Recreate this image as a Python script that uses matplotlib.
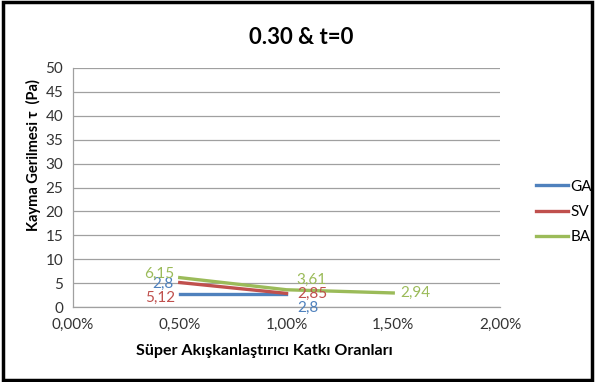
import matplotlib.pyplot as plt
from matplotlib.patches import Rectangle

plt.rcParams['font.family'] = ['Lato', 'DejaVu Sans']

# datos
x_ga = [0.5, 1.0]
ga = [2.8, 2.8]
x_sv = [0.5, 1.0]
sv = [5.12, 2.85]
x_ba = [0.5, 1.0, 1.5]
ba = [6.15, 3.61, 2.94]
x_ticks = [0.0, 0.5, 1.0, 1.5, 2.0]
x_tick_labels = ['0,00%', '0,50%', '1,00%', '1,50%', '2,00%']
y_ticks = list(range(0, 55, 5))

c_ga = '#4F81BD'
c_sv = '#C0504D'
c_ba = '#9BBB59'

fig = plt.figure(figsize=(5.95, 3.82), dpi=100)
ax = fig.add_axes([0.1227, 0.1963, 0.7176, 0.6257])

ax.plot(x_ga, ga, color=c_ga, lw=2.4, label='GA', zorder=3)
ax.plot(x_sv, sv, color=c_sv, lw=2.4, label='SV', zorder=4)
ax.plot(x_ba, ba, color=c_ba, lw=2.4, label='BA', zorder=5)

# etiquetas de datos (desplazamientos en pixeles)
fs = 11
def etiqueta(txt, x, y, dx, dy, ha, color):
    ax.annotate(txt, (x, y), xytext=(dx, dy), textcoords='offset pixels',
                ha=ha, va='center', color=color, fontsize=fs, zorder=6)

etiqueta('2,8', x_ga[0], ga[0], -6, 10, 'right', c_ga)
etiqueta('2,8', x_ga[1], ga[1], 11, -14, 'left', c_ga)
etiqueta('5,12', x_sv[0], sv[0], -5, -15, 'right', c_sv)
etiqueta('2,85', x_sv[1], sv[1], 11, -1, 'left', c_sv)
etiqueta('6,15', x_ba[0], ba[0], -5, 4, 'right', c_ba)
etiqueta('3,61', x_ba[1], ba[1], 10, 10, 'left', c_ba)
etiqueta('2,94', x_ba[2], ba[2], 7, 0, 'left', c_ba)

ax.set_xlim(0, 2.0)
ax.set_ylim(0, 50)
ax.set_xticks(x_ticks)
ax.set_xticklabels(x_tick_labels)
ax.set_yticks(y_ticks)
ax.tick_params(length=0, labelsize=11, colors='#333333')
ax.tick_params(axis='y', pad=7)
ax.tick_params(axis='x', pad=8)
ax.grid(axis='y', color='#A0A0A0', lw=0.9)
ax.set_axisbelow(True)
for s in ['top', 'right']:
    ax.spines[s].set_visible(False)
for s in ['left', 'bottom']:
    ax.spines[s].set_color('#A0A0A0')
    ax.spines[s].set_linewidth(0.9)

fig.text(0.507, 0.903, '0.30 & t=0', fontsize=16, fontweight='bold', ha='center', va='center')
fig.text(0.445, 0.081, 'Süper Akışkanlaştırıcı Katkı Oranları', fontsize=11.5,
         fontweight='bold', ha='center', va='center')
fig.text(0.056, 0.594, 'Kayma Gerilmesi τ  (Pa)', fontsize=10.5, fontweight='bold',
         ha='center', va='center', rotation=90)

ax.legend(loc='center left', bbox_to_anchor=(0.9, 0.445), bbox_transform=fig.transFigure,
          frameon=False, fontsize=11, handlelength=2.1, handletextpad=0.2,
          labelspacing=0.75, borderpad=0, borderaxespad=0)

# marco negro de la figura
fig.patches.append(Rectangle((0.005, 0.004), 0.99, 0.992, transform=fig.transFigure,
                             fill=False, edgecolor='black', lw=2.5))

fig.savefig('out.png', dpi=100)
